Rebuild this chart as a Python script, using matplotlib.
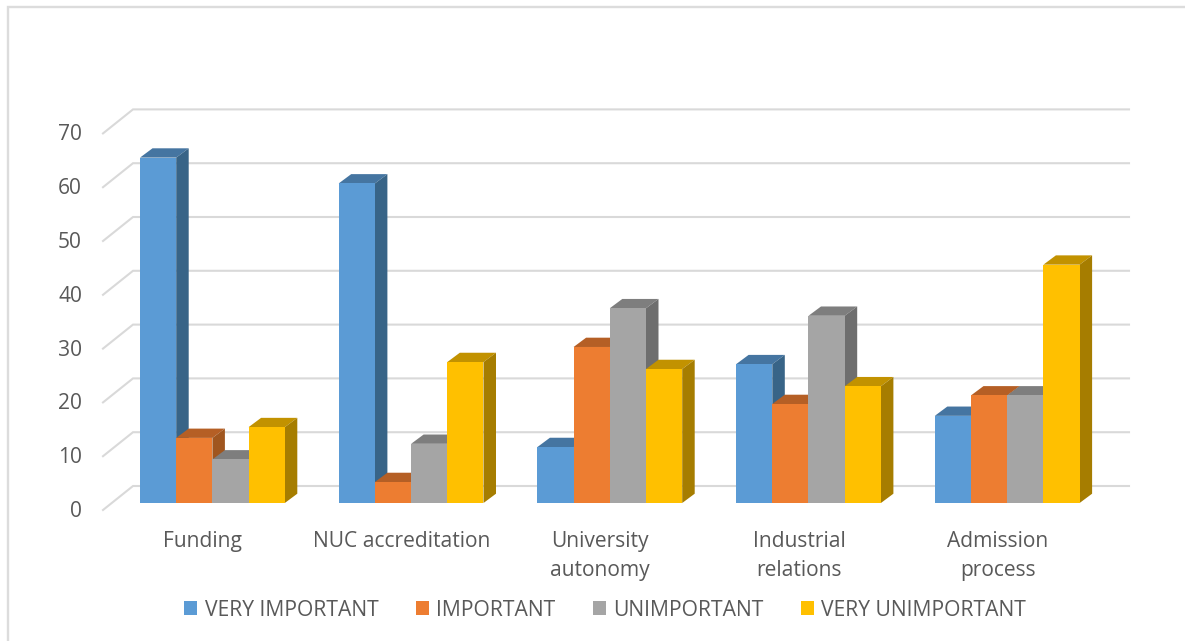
import matplotlib
matplotlib.use("Agg")
import matplotlib.pyplot as plt
from matplotlib.patches import Patch
from matplotlib.lines import Line2D
from matplotlib.transforms import ScaledTranslation

categories = ["Funding", "NUC accreditation", "University\nautonomy", "Industrial\nrelations", "Admission\nprocess"]
series_names = ["VERY IMPORTANT", "IMPORTANT", "UNIMPORTANT", "VERY UNIMPORTANT"]
very_important = [64.2, 59.4, 10.4, 25.8, 16.2]
important = [12.1, 3.9, 29.0, 18.4, 20.0]
unimportant = [8.1, 11.0, 36.2, 34.8, 20.0]
very_unimportant = [14.1, 26.2, 24.9, 21.7, 44.3]
y_ticks = [0, 10, 20, 30, 40, 50, 60, 70]

series = [very_important, important, unimportant, very_unimportant]
front_colors = ["#5B9BD5", "#ED7D31", "#A5A5A5", "#FFC000"]
top_colors = ["#4575A1", "#B55F25", "#7E7E7E", "#C29200"]
side_colors = ["#386487", "#A0561F", "#6E6E6E", "#A67D00"]
GRID = "#D9D9D9"
TEXT = "#595959"
FONT = "Open Sans"
FS = 15.1

W, H = 1185, 641
plt.rcParams["font.family"] = FONT
fig = plt.figure(figsize=(W / 100, H / 100), dpi=100)
left, right, bottom, top = 103, 1129, 503, 109
ax = fig.add_axes([left / W, 1 - bottom / H, (right - left) / W, (bottom - top) / H])

PX_CAT = 198.7      # pixels per category
PX_VAL = 5.38       # pixels per value unit
FIRST = 212.4       # pixel of first category centre
ax.set_xlim((left - FIRST) / PX_CAT, (right - FIRST) / PX_CAT)
ax.set_ylim(0, (bottom - top) / PX_VAL)
for s in ax.spines.values():
    s.set_visible(False)

bw = 36.2 / PX_CAT
dx, dy = 12.5 / PX_CAT, 9.3 / PX_VAL
wall_x = 30 / PX_CAT
wall_back, wall_front = 17 / PX_VAL, -7 / PX_VAL
x0, x1 = ax.get_xlim()

# back wall gridlines and left wall diagonals
for v in y_ticks:
    ax.plot([x0, x0 + wall_x, x1], [v + wall_front, v + wall_back, v + wall_back],
            color=GRID, lw=1.5, clip_on=False, zorder=1, solid_joinstyle="miter")

# bars, drawn left to right so later fronts cover earlier sides
z = 2
for c in range(len(categories)):
    for k, vals in enumerate(series):
        l = c + (k - 2) * bw
        r = l + bw
        v = vals[c]
        ax.fill([l, r, r + dx, l + dx], [v, v, v + dy, v + dy], color=top_colors[k], lw=0, clip_on=False, zorder=z)
        ax.fill([r, r + dx, r + dx, r], [0, dy, v + dy, v], color=side_colors[k], lw=0, clip_on=False, zorder=z)
        ax.fill([l, r, r, l], [0, 0, v, v], color=front_colors[k], lw=0, clip_on=False, zorder=z)
        z += 1

# axes labels
ax.set_yticks(y_ticks)
ax.set_xticks([i - 9.5 / PX_CAT for i in range(len(categories))])
ax.set_xticklabels(categories, linespacing=1.54)
ax.tick_params(axis="both", length=0, colors=TEXT, labelsize=FS)
ax.tick_params(axis="y", pad=15)
ax.tick_params(axis="x", pad=20)
shift = ScaledTranslation(0, -6 / 100, fig.dpi_scale_trans)
for lab in ax.get_yticklabels():
    lab.set_transform(lab.get_transform() + shift)

# legend
handles = [Patch(facecolor=c, edgecolor="none", label=n) for c, n in zip(front_colors, series_names)]
ax.legend(handles=handles, ncols=4, loc="center", bbox_to_anchor=(605 / W, 1 - 610 / H),
          bbox_transform=fig.transFigure, frameon=False, fontsize=15.25, labelcolor=TEXT,
          handlelength=0.62, handleheight=0.62, handletextpad=0.34, columnspacing=1.76,
          borderpad=0, borderaxespad=0)

# chart area border
fig.add_artist(Line2D([8 / W, 8 / W, 1], [0, 1 - 7 / H, 1 - 7 / H], color="#DCDCDC", lw=1.7,
                      transform=fig.transFigure, solid_joinstyle="miter"))

fig.savefig("out.png", dpi=100, facecolor="white")
